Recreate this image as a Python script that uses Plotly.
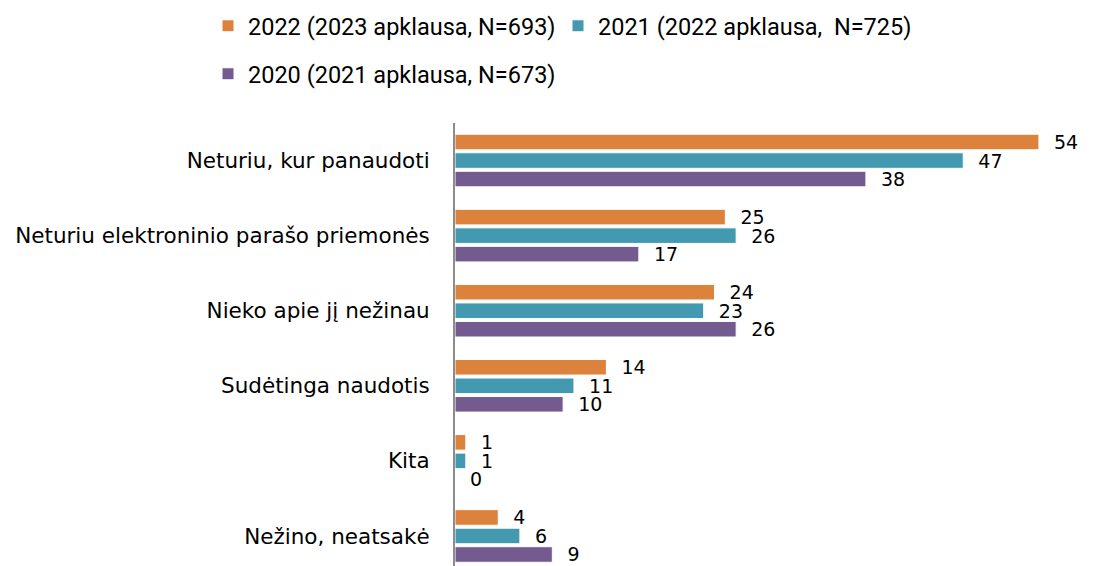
import plotly.graph_objects as go

# categories (top to bottom) and values per survey year
categories = [
    "Neturiu, kur panaudoti",
    "Neturiu elektroninio parašo priemonės",
    "Nieko apie jį nežinau",
    "Sudėtinga naudotis",
    "Kita",
    "Nežino, neatsakė",
]
series_names = [
    "2022 (2023 apklausa, N=693)",
    "2021 (2022 apklausa,  N=725)",
    "2020 (2021 apklausa, N=673)",
]
values_2022 = [54, 25, 24, 14, 1, 4]
values_2021 = [47, 26, 23, 11, 1, 6]
values_2020 = [38, 17, 26, 10, 0, 9]
colors = ["#DD823D", "#4299B0", "#735A8F"]
legends = ["legend", "legend2", "legend3"]

W, H = 1085, 558  # page body adds an 8px margin

fig = go.Figure()
for name, vals, col, lg in zip(series_names, [values_2022, values_2021, values_2020], colors, legends):
    fig.add_trace(go.Bar(
        y=categories, x=vals, name=name, orientation="h", legend=lg,
        marker=dict(color=col, line=dict(color="white", width=1)),
        text=["  " + str(v) for v in vals], textposition="outside",
        constraintext="none",
        textfont=dict(family="DejaVu Sans", size=19, color="black"), cliponaxis=False,
    ))

leg_font = dict(family="Roboto", size=23.5, color="black")


def leg(x, y):
    # one legend entry per box, placed in container pixels
    return dict(orientation="h", xref="container", yref="container",
                x=x / W, y=1 - y / H, xanchor="left", yanchor="middle",
                bgcolor="rgba(0,0,0,0)", font=leg_font, itemwidth=30)


fig.update_layout(
    barmode="group", bargap=0.26, bargroupgap=0.16,
    width=W, height=H,
    margin=dict(l=447, r=0, t=115, b=0),
    paper_bgcolor="white", plot_bgcolor="white",
    font=dict(family="DejaVu Sans", size=19, color="black"),
    showlegend=True,
    legend=leg(200, 18),
    legend2=leg(550, 18),
    legend3=leg(200, 66),
)
fig.update_xaxes(range=[0, 59], visible=False)
fig.update_yaxes(range=[5.4, -0.5], showline=True, linecolor="#8c8c8c", linewidth=2,
                 showgrid=False, ticks="", ticklabelstandoff=19,
                 tickfont=dict(family="DejaVu Sans", size=21.5))

fig.write_html("out.html")
